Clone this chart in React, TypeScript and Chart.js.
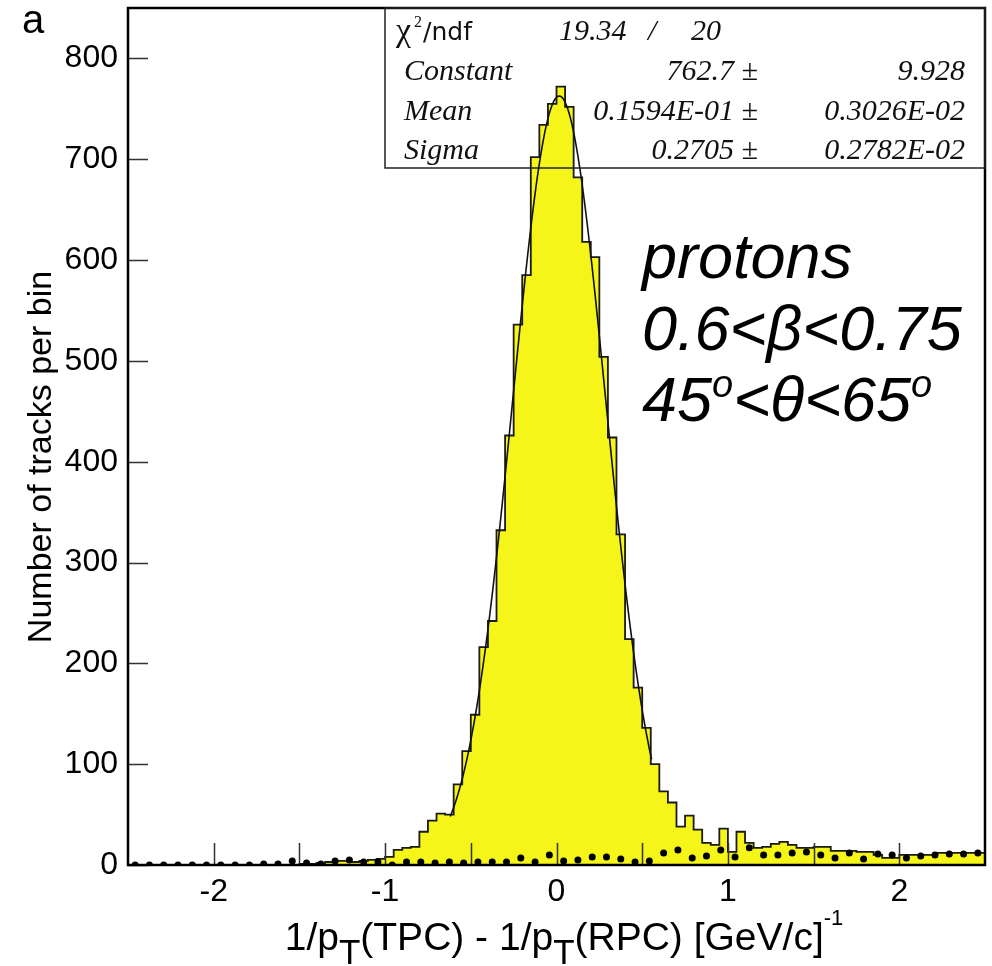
import { useEffect, useRef } from 'react';
import { Chart, registerables } from 'chart.js';

Chart.register(...registerables);

// ---------- data ----------
const X_MIN = -2.5;
const X_MAX = 2.5;
const Y_MIN = 0;
const Y_MAX = 850;

// 100 bins of width 0.05 from -2.5 to 2.5 (yellow histogram)
const BIN_COUNTS = [
  0, 0, 0, 0, 0, 0, 0, 0, 0, 0,
  0, 0, 0, 0, 0, 0, 0, 0, 0, 0,
  1, 1, 2, 3, 4, 4, 3, 4, 5, 6,
  8, 15, 17, 18, 33, 44, 51, 50, 80, 113,
  149, 216, 242, 332, 426, 536, 585, 702, 734, 755,
  772, 752, 682, 618, 603, 504, 424, 328, 224, 176,
  136, 100, 73, 62, 38, 49, 35, 22, 20, 36,
  13, 33, 22, 17, 18, 21, 23, 20, 17, 17,
  18, 18, 14, 14, 14, 13, 13, 10, 7, 7,
  10, 10, 10, 10, 12, 12, 12, 12, 12, 12,
];

// 60 bins from -2.5 to 2.5 (dotted background)
const BG_COUNTS = [
  0, 0, 0, 0, 0, 0, 0, 0, 0, 1,
  1, 4, 2, 1, 4, 5, 3, 3, 0, 3,
  3, 2, 3, 2, 3, 3, 3, 7, 3, 10,
  4, 5, 8, 8, 6, 3, 4, 12, 15, 7,
  9, 15, 8, 17, 10, 10, 12, 13, 10, 7,
  12, 6, 11, 10, 7, 9, 10, 11, 11, 12,
];

const Y_TICKS = [0, 100, 200, 300, 400, 500, 600, 700, 800];
const X_TICK_LABELS = [-2, -1, 0, 1, 2];
const X_TICK_MARKS = [-2, -1.5, -1, -0.5, 0, 0.5, 1, 1.5, 2];

// Gaussian fit parameters (from stats box)
const FIT_CONSTANT = 762.7;
const FIT_MEAN = 0.01594;
const FIT_SIGMA = 0.2705;
const FIT_FROM = -0.62;
const FIT_TO = 0.555;

const STATS_ROWS = [
  { name: 'Constant', value: '762.7 \u00b1', error: '9.928' },
  { name: 'Mean', value: '0.1594E-01 \u00b1', error: '0.3026E-02' },
  { name: 'Sigma', value: '0.2705 \u00b1', error: '0.2782E-02' },
];
const CHI2 = '19.34';
const NDF = '20';

const Y_TITLE = 'Number of tracks per bin';
const PANEL_LABEL = 'a';

// ---------- derived datasets ----------
const binW = (X_MAX - X_MIN) / BIN_COUNTS.length;
const histPoints = BIN_COUNTS.map((v, i) => ({ x: X_MIN + i * binW, y: v }));
histPoints.push({ x: X_MAX, y: BIN_COUNTS[BIN_COUNTS.length - 1] });

const bgW = (X_MAX - X_MIN) / BG_COUNTS.length;
const bgPoints = BG_COUNTS.map((v, i) => ({ x: X_MIN + (i + 0.5) * bgW, y: v }));

const fitPoints: { x: number; y: number }[] = [];
for (let i = 0; i <= 200; i++) {
  const xv = FIT_FROM + ((FIT_TO - FIT_FROM) * i) / 200;
  const d = (xv - FIT_MEAN) / FIT_SIGMA;
  fitPoints.push({ x: xv, y: FIT_CONSTANT * Math.exp(-0.5 * d * d) });
}

const SANS = "'Liberation Sans', Arial, sans-serif";
const SERIF = "'Liberation Serif', 'Times New Roman', serif";

type Seg = { t: string; dy?: number; size?: number };

function drawSegs(ctx: CanvasRenderingContext2D, segs: Seg[], x: number, y: number, base: number, style: string, family: string, align: 'left' | 'center') {
  const widths = segs.map((s) => {
    ctx.font = `${style} ${s.size ?? base}px ${family}`;
    return ctx.measureText(s.t).width;
  });
  const total = widths.reduce((a, b) => a + b, 0);
  let cx = align === 'center' ? x - total / 2 : x;
  segs.forEach((s, i) => {
    ctx.font = `${style} ${s.size ?? base}px ${family}`;
    ctx.textAlign = 'left';
    ctx.fillText(s.t, cx, y + (s.dy ?? 0));
    cx += widths[i];
  });
}

const overlay = {
  id: 'overlay',
  afterDatasetsDraw(chart: any) {
    const { ctx, chartArea: a, scales } = chart;
    const xs = scales.x;
    const ys = scales.y;
    ctx.save();
    // tick marks (inside the frame)
    ctx.strokeStyle = '#333';
    ctx.lineWidth = 1.5;
    ctx.beginPath();
    for (const v of Y_TICKS) {
      const py = Math.round(ys.getPixelForValue(v)) + 0.5;
      ctx.moveTo(a.left, py);
      ctx.lineTo(a.left + 20, py);
    }
    for (const v of X_TICK_MARKS) {
      const px = Math.round(xs.getPixelForValue(v)) + 0.5;
      ctx.moveTo(px, a.bottom);
      ctx.lineTo(px, a.bottom - 22);
    }
    ctx.stroke();
    // frame
    ctx.strokeStyle = '#000';
    ctx.lineWidth = 2.5;
    ctx.strokeRect(a.left, a.top, a.right - a.left, a.bottom - a.top);

    // stats box
    ctx.lineWidth = 1.5;
    ctx.strokeStyle = '#222';
    ctx.strokeRect(385, a.top, a.right - 385, 168 - a.top);
    ctx.fillStyle = '#111';
    ctx.textBaseline = 'alphabetic';
    // chi2 row
    ctx.font = `34px ${SERIF}`;
    ctx.textAlign = 'left';
    ctx.fillText('\u03c7', 396, 41);
    ctx.font = `16px ${SERIF}`;
    ctx.fillText('2', 414, 27);
    ctx.font = `25px 'DejaVu Sans', sans-serif`;
    ctx.fillText('/ndf', 423, 40);
    ctx.font = `italic 30px ${SERIF}`;
    ctx.fillText(CHI2, 559, 40);
    ctx.fillText('/', 648, 40);
    ctx.fillText(NDF, 691, 40);
    STATS_ROWS.forEach((r, i) => {
      const by = 80 + i * 39.5;
      ctx.font = `italic 30px ${SERIF}`;
      ctx.textAlign = 'left';
      ctx.fillText(r.name, 404, by);
      ctx.textAlign = 'right';
      ctx.fillText(r.value, 758, by);
      ctx.fillText(r.error, 965, by);
    });

    // physics label
    ctx.fillStyle = '#000';
    ctx.textAlign = 'left';
    ctx.font = `italic 63px ${SANS}`;
    ctx.fillText('protons', 642, 278);
    ctx.fillText('0.6<\u03b2<0.75', 642, 350);
    drawSegs(ctx, [
      { t: '45' }, { t: 'o', size: 38, dy: -24 }, { t: '<\u03b8<65' }, { t: 'o', size: 38, dy: -24 },
    ], 642, 421, 63, 'italic', SANS, 'left');

    // panel label
    ctx.font = `40px ${SANS}`;
    ctx.fillText(PANEL_LABEL, 22, 33);

    // x title
    drawSegs(ctx, [
      { t: '1/p' }, { t: 'T', size: 35, dy: 14 }, { t: '(TPC) - 1/p' }, { t: 'T', size: 35, dy: 14 },
      { t: '(RPC) [GeV/c]' }, { t: '-1', size: 22, dy: -25 },
    ], 564, 950, 39, '', SANS, 'center');

    // y title
    ctx.save();
    ctx.translate(51, 457);
    ctx.rotate(-Math.PI / 2);
    ctx.textAlign = 'center';
    ctx.font = `34px ${SANS}`;
    ctx.fillText(Y_TITLE, 0, 0);
    ctx.restore();

    ctx.restore();
  },
};

export default function App() {
  const ref = useRef<HTMLCanvasElement | null>(null);
  useEffect(() => {
    if (!ref.current) return;
    const chart = new Chart(ref.current, {
      type: 'line',
      data: {
        datasets: [
          {
            label: 'fit',
            data: fitPoints,
            borderColor: '#111',
            borderWidth: 1.6,
            pointRadius: 0,
            fill: false,
            tension: 0,
          },
          {
            label: 'background',
            data: bgPoints,
            showLine: false,
            pointRadius: 3.5,
            pointBackgroundColor: '#000',
            pointBorderColor: '#000',
            pointBorderWidth: 0,
            fill: false,
          },
          {
            label: 'protons',
            data: histPoints,
            stepped: 'before',
            borderColor: '#1a1a1a',
            borderWidth: 1.8,
            backgroundColor: 'rgb(245,245,25)',
            fill: 'origin',
            pointRadius: 0,
          },
        ],
      },
      options: {
        animation: false,
        responsive: false,
        parsing: false as any,
        layout: { padding: { top: 8, right: 7, left: 0, bottom: 0 } },
        plugins: { legend: { display: false }, tooltip: { enabled: false } },
        scales: {
          x: {
            type: 'linear',
            min: X_MIN,
            max: X_MAX,
            grid: { display: false, drawTicks: false },
            border: { display: false },
            ticks: {
              autoSkip: false,
              padding: 8,
              color: '#000',
              font: { family: SANS, size: 32 },
              callback: (v: any) => String(v),
            },
            afterBuildTicks: (s: any) => {
              s.ticks = X_TICK_LABELS.map((v) => ({ value: v }));
            },
            afterFit: (s: any) => {
              s.height = 101;
              s.paddingLeft = 0;
              s.paddingRight = 0;
            },
          },
          y: {
            type: 'linear',
            min: Y_MIN,
            max: Y_MAX,
            grid: { display: false, drawTicks: false },
            border: { display: false },
            ticks: {
              autoSkip: false,
              padding: 10,
              color: '#000',
              font: { family: SANS, size: 32 },
              callback: (v: any) => String(v),
            },
            afterBuildTicks: (s: any) => {
              s.ticks = Y_TICKS.map((v) => ({ value: v }));
            },
            afterFit: (s: any) => {
              s.width = 128;
              s.paddingTop = 0;
              s.paddingBottom = 0;
            },
          },
        },
      },
      plugins: [overlay],
    });
    return () => chart.destroy();
  }, []);
  return (
    <div style={{ position: 'fixed', left: 0, top: 0, width: 992, height: 966, background: '#fff' }}>
      <canvas ref={ref} width={992} height={966} />
    </div>
  );
}
